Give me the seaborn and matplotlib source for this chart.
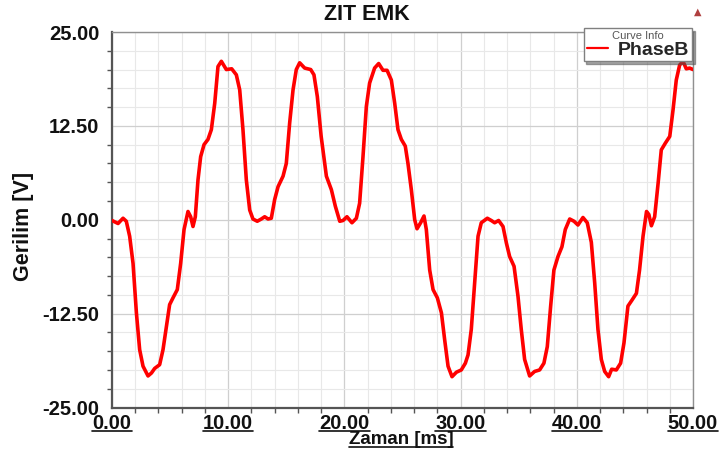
import numpy as np
import pandas as pd
import matplotlib
matplotlib.use("Agg")
import matplotlib.pyplot as plt
from matplotlib.lines import Line2D
from matplotlib.ticker import MultipleLocator, FormatStrFormatter
import seaborn as sns

# zaman [ms] ve gerilim [V]
t_ms = [0.0, 0.52, 0.95, 1.23, 1.52, 1.81, 2.1, 2.38, 2.67, 3.1, 3.4, 3.67, 4.1,
        4.39, 4.68, 4.96, 5.25, 5.62, 5.91, 6.2, 6.54, 6.77, 6.97, 7.17, 7.4, 7.63,
        7.92, 8.26, 8.55, 8.84, 9.12, 9.41, 9.84, 10.3, 10.7, 10.99, 11.27, 11.56,
        11.85, 12.13, 12.5, 12.85, 13.14, 13.43, 13.71, 14.0, 14.29, 14.72, 15.0,
        15.29, 15.58, 15.86, 16.15, 16.58, 17.1, 17.38, 17.67, 18.0, 18.45, 18.88,
        19.22, 19.6, 19.88, 20.22, 20.65, 21.03, 21.31, 21.6, 21.89, 22.17, 22.6,
        22.95, 23.32, 23.67, 24.04, 24.33, 24.61, 24.9, 25.24, 25.47, 25.76, 26.05,
        26.25, 26.56, 26.85, 27.05, 27.34, 27.63, 28.0, 28.35, 28.63, 28.92, 29.26,
        29.64, 30.06, 30.41, 30.64, 30.92, 31.21, 31.5, 31.78, 32.3, 32.64, 32.93,
        33.27, 33.65, 33.94, 34.22, 34.6, 34.94, 35.22, 35.51, 35.94, 36.37, 36.8,
        37.17, 37.46, 37.75, 38.03, 38.38, 38.72, 39.01, 39.39, 39.76, 40.1, 40.53,
        40.9, 41.25, 41.54, 41.82, 42.11, 42.4, 42.74, 43.0, 43.4, 43.77, 44.06,
        44.4, 44.75, 45.13, 45.4, 45.7, 46.0, 46.2, 46.42, 46.7, 47.0, 47.27, 47.62,
        48.0, 48.28, 48.56, 48.85, 49.14, 49.42, 49.71, 50.0]
v_phase_b = [-0.1, -0.5, 0.2, -0.2, -2.2, -5.8, -12.4, -17.3, -19.5, -20.8, -20.4,
             -19.8, -19.3, -17.3, -14.2, -11.3, -10.4, -9.3, -5.8, -1.3, 1.1, 0.4,
             -0.9, 0.4, 5.3, 8.4, 10.0, 10.7, 12.0, 15.5, 20.4, 21.1, 20.0, 20.1,
             19.3, 17.3, 12.0, 5.3, 1.3, 0.1, -0.2, 0.1, 0.4, 0.1, 0.2, 2.7, 4.4,
             5.8, 7.5, 12.9, 17.3, 20.0, 20.9, 20.2, 20.0, 19.3, 16.4, 11.1, 5.8,
             4.0, 1.8, -0.2, -0.1, 0.4, -0.4, 0.2, 2.2, 8.4, 15.1, 18.2, 20.2, 20.8,
             19.9, 19.9, 18.6, 15.5, 12.0, 10.7, 9.8, 7.5, 4.0, 0.0, -1.2, -0.4, 0.5,
             -1.3, -6.7, -9.3, -10.4, -12.4, -16.0, -19.5, -20.9, -20.3, -20.0, -19.1,
             -18.0, -14.6, -8.4, -2.2, -0.4, 0.2, -0.1, -0.4, -0.1, -0.9, -3.1, -4.9,
             -6.2, -10.2, -14.6, -18.6, -20.8, -20.2, -20.0, -19.1, -16.9, -11.5,
             -6.7, -4.9, -3.6, -1.3, 0.1, -0.2, -0.7, 0.3, -0.4, -3.0, -8.4, -14.6,
             -18.6, -20.2, -20.9, -19.9, -20.0, -19.1, -16.4, -11.5, -10.7, -9.8,
             -6.7, -2.2, 1.1, 0.7, -0.8, 0.4, 4.9, 9.3, 10.2, 11.1, 14.6, 18.6, 20.6,
             21.1, 20.1, 20.2, 20.0]

x_ticks = [0, 10, 20, 30, 40, 50]
y_ticks = [-25, -12.5, 0, 12.5, 25]

df = pd.DataFrame({"Zaman": t_ms, "PhaseB": v_phase_b})

sns.set_theme(style="white")
plt.rcParams['font.family'] = ['Liberation Sans', 'DejaVu Sans']

W, H = 720, 454
fig = plt.figure(figsize=(W / 100, H / 100), dpi=100)
ax = fig.add_axes([112 / W, 1 - 407.5 / H, (693 - 112) / W, (407.5 - 32) / H])

sns.lineplot(data=df, x="Zaman", y="PhaseB", ax=ax, color="#ff0000",
             linewidth=2.6, label="PhaseB", zorder=3,
             solid_joinstyle='round', solid_capstyle='round')

ax.set_xlim(0, 50)
ax.set_ylim(-25, 25)
ax.set_xticks(x_ticks)
ax.set_yticks(y_ticks)
ax.xaxis.set_minor_locator(MultipleLocator(2))
ax.yaxis.set_minor_locator(MultipleLocator(2.5))
ax.xaxis.set_major_formatter(FormatStrFormatter('%.2f'))
ax.yaxis.set_major_formatter(FormatStrFormatter('%.2f'))

ax.grid(which='major', color='#cfcfcf', linewidth=0.9)
ax.grid(which='minor', color='#e8e8e8', linewidth=0.8)
ax.set_axisbelow(True)

for side in ['left', 'bottom']:
    ax.spines[side].set_color('#555555')
    ax.spines[side].set_linewidth(1.6)
for side in ['top', 'right']:
    ax.spines[side].set_color('#909090')
    ax.spines[side].set_linewidth(1.0)

ax.tick_params(axis='y', which='major', direction='out', length=6, width=1,
               color='#555555', pad=3, labelsize=14.5, labelcolor='#111111')
ax.tick_params(axis='y', which='minor', direction='out', length=3.5, width=1,
               color='#555555', left=True)
ax.tick_params(axis='x', which='major', direction='out', length=3.5, width=1,
               color='#555555', pad=1.5, labelsize=14.5, labelcolor='#111111')
ax.tick_params(axis='x', which='minor', direction='out', length=3.5, width=1,
               color='#555555', bottom=True)
for lab in ax.get_xticklabels() + ax.get_yticklabels():
    lab.set_fontweight('bold')

ax.set_xlabel("")
ax.set_ylabel("")

fig.text(367 / W, 1 - 14.5 / H, "ZIT EMK", ha='center', va='center',
         fontsize=15.5, fontweight='bold', color='#111111')
fig.text(24 / W, 1 - 226 / H, "Gerilim [V]", ha='center', va='center',
         rotation=90, fontsize=15.5, fontweight='bold', color='#111111')
xlab = fig.text(401 / W, 1 - 440 / H, "Zaman [ms]", ha='center', va='center',
                fontsize=13.5, fontweight='bold', color='#111111')

# lejant
leg = ax.legend(loc='upper right', bbox_to_anchor=(692 / W, 1 - 28 / H),
                bbox_transform=fig.transFigure, title="Curve Info",
                prop={'weight': 'bold', 'size': 14}, title_fontsize=8,
                frameon=True, fancybox=False, shadow=True, borderpad=0.15,
                labelspacing=0.0, handlelength=1.1, handletextpad=0.5,
                borderaxespad=0)
leg.get_title().set_color('#555555')
leg.get_frame().set_edgecolor('#808080')
leg.get_frame().set_linewidth(1.0)
leg.set_zorder(5)
for h in leg.legend_handles:
    h.set_linewidth(1.6)

# ansys logosu
fig.text(698 / W, 1 - 12 / H, "▲", ha='center', va='center', fontsize=7,
         color='#b04040', family=['DejaVu Sans'])

# alti cizili yazilar
fig.canvas.draw()
r = fig.canvas.get_renderer()
for txt in list(ax.get_xticklabels()) + [xlab]:
    bb = txt.get_window_extent(r)
    y = (bb.y0 + 2) / H
    fig.add_artist(Line2D([bb.x0 / W, bb.x1 / W], [y, y], color='#111111',
                          linewidth=1.2, transform=fig.transFigure))

fig.savefig("out.png", dpi=100)
